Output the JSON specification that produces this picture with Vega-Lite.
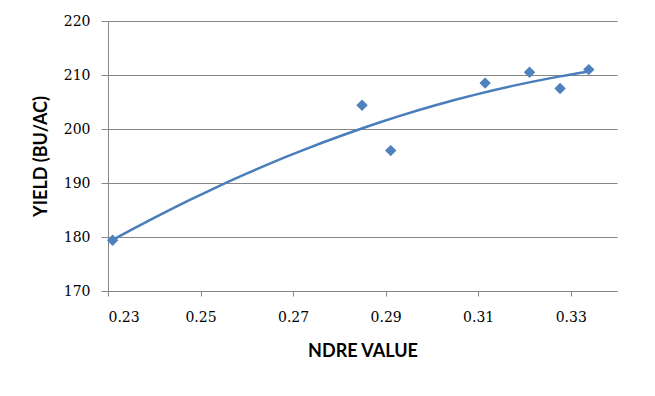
{
  "$schema": "https://vega.github.io/schema/vega-lite/v6.json",
  "width": 509,
  "height": 270,
  "autosize": {"type": "none"},
  "padding": {"left": 108, "top": 21, "right": 38, "bottom": 105},
  "background": "white",
  "config": {"view": {"stroke": null}},
  "data": {
    "values": [
      {"ndre": 0.231, "yield": 179.4},
      {"ndre": 0.2849, "yield": 204.4},
      {"ndre": 0.2911, "yield": 196.0},
      {"ndre": 0.3115, "yield": 208.5},
      {"ndre": 0.3211, "yield": 210.5},
      {"ndre": 0.3277, "yield": 207.5},
      {"ndre": 0.3339, "yield": 211.0}
    ]
  },
  "encoding": {
    "x": {
      "field": "ndre",
      "type": "quantitative",
      "scale": {"domain": [0.23, 0.34], "nice": false, "zero": false},
      "axis": {
        "title": "NDRE VALUE",
        "values": [0.23, 0.25, 0.27, 0.29, 0.31, 0.33],
        "format": ".2f",
        "grid": false,
        "domainColor": "#868686",
        "tickColor": "#868686",
        "tickSize": 5,
        "labelPadding": 14,
        "labelFont": "DejaVu Serif",
        "labelFontSize": 14,
        "labelColor": "#000000",
        "titleFont": "Lato",
        "titleFontSize": 18,
        "titleFontWeight": "bold",
        "titleColor": "#000000",
        "titlePadding": 18
      }
    },
    "y": {
      "field": "yield",
      "type": "quantitative",
      "scale": {"domain": [170, 220], "nice": false, "zero": false},
      "axis": {
        "title": "YIELD (BU/AC)",
        "values": [170, 180, 190, 200, 210, 220],
        "grid": true,
        "gridColor": "#868686",
        "gridWidth": 1,
        "domainColor": "#868686",
        "tickColor": "#868686",
        "tickSize": 7,
        "labelPadding": 11,
        "labelFont": "DejaVu Serif",
        "labelFontSize": 14,
        "labelColor": "#000000",
        "titleFont": "Lato",
        "titleFontSize": 18,
        "titleFontWeight": "bold",
        "titleColor": "#000000",
        "titlePadding": 13
      }
    }
  },
  "layer": [
    {
      "transform": [
        {"regression": "yield", "on": "ndre", "method": "poly", "order": 2}
      ],
      "mark": {"type": "line", "color": "#4A7EBB", "strokeWidth": 2.5}
    },
    {
      "mark": {"type": "point", "shape": "diamond", "filled": true, "size": 130, "color": "#4F81BD", "opacity": 1}
    }
  ]
}
